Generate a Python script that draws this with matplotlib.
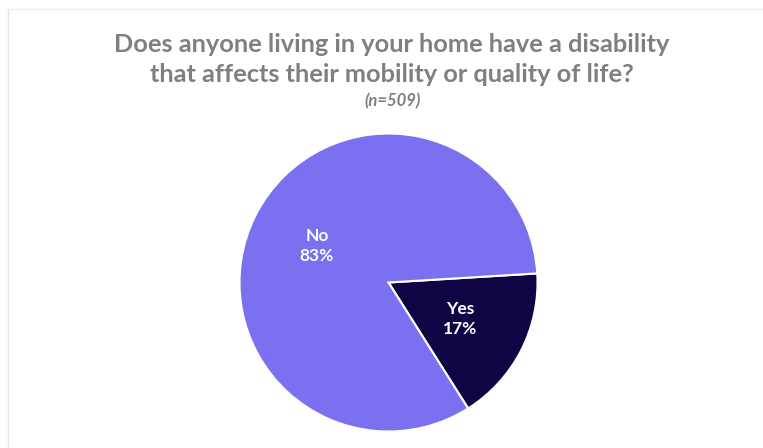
import matplotlib
matplotlib.use("Agg")
import matplotlib.pyplot as plt
from matplotlib.lines import Line2D

categories = ["Yes", "No"]
values = [17, 83]
colors = ["#0F0544", "#7B70F0"]
title_lines = ["Does anyone living in your home have a disability",
               "that affects their mobility or quality of life?"]
subtitle = "(n=509)"

W, H = 763, 448
fig = plt.figure(figsize=(W / 100, H / 100), dpi=100)
ax = fig.add_axes([0, 0, 1, 1])
ax.set_xlim(0, W)
ax.set_ylim(0, H)
ax.set_aspect("equal")
ax.axis("off")

font = "Lato"
wedges, texts = ax.pie(
    values,
    labels=[f"{c}\n{v}%" for c, v in zip(categories, values)],
    colors=colors,
    startangle=3.5,
    counterclock=False,
    center=(388.5, H - 282.5),
    radius=149,
    explode=[0.03, 0],
    labeldistance=0.54,
    wedgeprops=dict(edgecolor="white", linewidth=1.5),
    textprops=dict(color="white", fontsize=12.5, fontweight="bold",
                   family=font, ha="center", va="center", linespacing=1.3),
    frame=False,
)
ax.set_xlim(0, W)
ax.set_ylim(0, H)

fig.text(0.514, 1 - 45 / H, title_lines[0], ha="center", va="center",
         fontsize=18.3, fontweight="bold", color="#7F7F7F", family=font)
fig.text(0.514, 1 - 75 / H, title_lines[1], ha="center", va="center",
         fontsize=18.3, fontweight="bold", color="#7F7F7F", family=font)
fig.text(0.514, 1 - 101 / H, subtitle, ha="center", va="center",
         fontsize=12, fontstyle="italic", fontweight="bold", color="#7F7F7F", family=font)

# faint chart border
fig.add_artist(Line2D([8 / W, 8 / W], [0, 1 - 9 / H], color="#E6E6E6", lw=1, transform=fig.transFigure))
fig.add_artist(Line2D([8 / W, 1], [1 - 9 / H, 1 - 9 / H], color="#EFEFEF", lw=1, transform=fig.transFigure))

fig.savefig("out.png", dpi=100, facecolor="white")
